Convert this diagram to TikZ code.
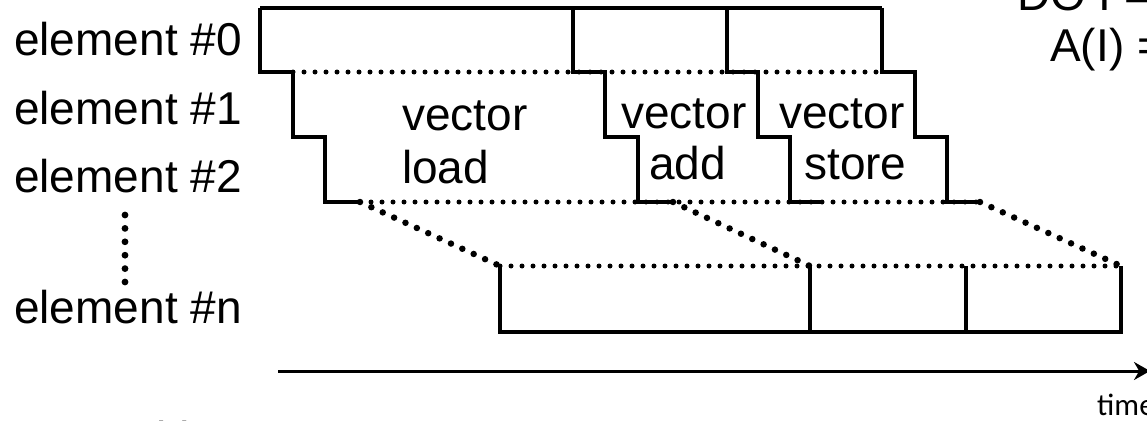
\documentclass[tikz,border=0pt]{standalone}
\usepackage{fontspec}
\setmainfont{Liberation Sans}
\newfontfamily\timefont{Carlito}
\usetikzlibrary{arrows.meta}
\begin{document}
\begin{tikzpicture}[x=1pt,y=-1pt,
  solidline/.style={line width=4.2pt, line join=miter, line cap=butt},
  dotline/.style={line width=5pt, line cap=round, dash pattern=on 0pt off 11pt},
  diagdots/.style={line width=6.5pt, line cap=round, dash pattern=on 0pt off 12.5pt},
  lbl/.style={anchor=base west, inner sep=0pt, font=\fontsize{46}{50}\selectfont},
  axisline/.style={line width=3pt, -{Stealth[length=16pt,width=18pt]}},
  vdot/.style={fill=black, draw=none}]
\useasboundingbox (0,0) rectangle (1147,420);
% coordinates
\coordinate (t0) at (260,8);
\coordinate (t3) at (882,8);
\coordinate (d1a) at (293,72);
\coordinate (d1b) at (882,72);
\coordinate (d2a) at (360,202);
\coordinate (d2b) at (980,202);
\coordinate (s2) at (673,202);
\coordinate (s3) at (822,202);
\coordinate (n0) at (500,266);
\coordinate (n1) at (810,266);
\coordinate (n2) at (966,266);
\coordinate (n3) at (1121,266);
\coordinate (b0) at (500,332);
\coordinate (b1) at (810,332);
\coordinate (b2) at (966,332);
\coordinate (b3) at (1121,332);
\coordinate (ax0) at (278,371);
\coordinate (ax1) at (1150,371);
% dotted lines
\draw[dotline] (d1a) -- (d1b);
\draw[dotline] (d2a) -- (d2b);
\draw[dotline] (n0) -- (n3);
\draw[diagdots] (d2a) -- (n0);
\draw[diagdots] (s2) -- (n1);
\draw[diagdots] (d2b) -- (n3);
% solid staircase outlines
\draw[solidline] (t0) -- (t3);
\draw[solidline] (t0) -- (260,72) -- (293,72) -- (293,137) -- (325,137) -- (325,202) -- (d2a);
\draw[solidline] (573,8) -- (573,72) -- (605,72) -- (605,137) -- (638,137) -- (638,202) -- (s2);
\draw[solidline] (727,8) -- (727,72) -- (758,72) -- (758,137) -- (790,137) -- (790,202) -- (s3);
\draw[solidline] (t3) -- (882,72) -- (915,72) -- (915,137) -- (947,137) -- (947,202) -- (d2b);
% element n box
\draw[solidline] (n0) -- (b0) -- (b3) -- (n3);
\draw[solidline] (n1) -- (b1);
\draw[solidline] (n2) -- (b2);
% labels
\node[lbl] (e0) at (14,56) {element \#0};
\node[lbl] (e1) at (14,124) {element \#1};
\node[lbl] (e2) at (14,192) {element \#2};
\node[lbl] (en) at (14,323) {element \#n};
\foreach \k in {0,...,5} {\fill[vdot] (125,{215+13.4*\k}) circle (3.4);}
\node[lbl] (vl1) at (402,130) {vector};
\node[lbl] (vl2) at (402,183) {load};
\node[lbl] (va1) at (621,128) {vector};
\node[lbl] (va2) at (649,179) {add};
\node[lbl] (vs1) at (779,128) {vector};
\node[lbl] (vs2) at (804,179) {store};
\node[lbl] (do1) at (1017,11) {DO I =};
\node[lbl] (do2) at (1050,62) {A(I) =};
\node[lbl] (foot) at (-5,454) {SIMD with a LOOP};
% time axis
\draw[axisline] (ax0) -- (ax1);
\node[anchor=base west, inner sep=0pt, font=\timefont\fontsize{31}{34}\selectfont] (tm) at (1097,415) {time};
\end{tikzpicture}
\end{document}
